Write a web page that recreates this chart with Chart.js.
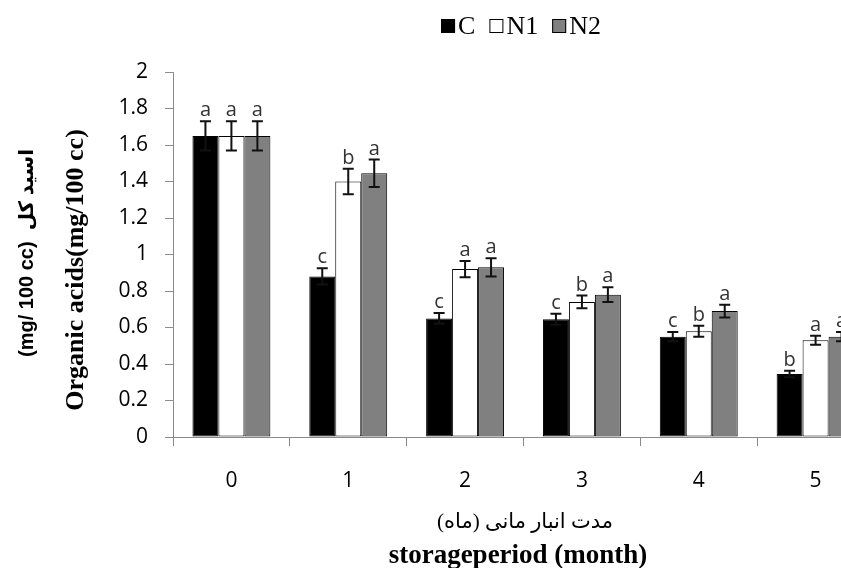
<!DOCTYPE html>
<html lang="fa">
<head>
  <meta charset="UTF-8">
  <title>Organic acids</title>
  <script src="https://cdn.jsdelivr.net/npm/chart.js"></script>
  <style>
    html, body { margin: 0; padding: 0; background: #fff; overflow: hidden; }
    #wrap { width: 900px; height: 568px; }
  </style>
</head>
<body>
  <div id="wrap"><canvas id="acidChart" width="900" height="568"></canvas></div>

  <script>
const months = ["0", "1", "2", "3", "4", "5"];
const seriesNames = ["C", "N1", "N2"];
const valuesC  = [1.65, 0.88, 0.65, 0.645, 0.55, 0.345];
const valuesN1 = [1.65, 1.40, 0.92, 0.74, 0.58, 0.53];
const valuesN2 = [1.65, 1.445, 0.93, 0.78, 0.69, 0.55];
const errC  = [0.08, 0.045, 0.03, 0.03, 0.025, 0.018];
const errN1 = [0.08, 0.07, 0.045, 0.035, 0.03, 0.025];
const errN2 = [0.08, 0.075, 0.05, 0.04, 0.035, 0.025];
const lettersC  = ["a", "c", "c", "c", "c", "b"];
const lettersN1 = ["a", "b", "a", "b", "b", "a"];
const lettersN2 = ["a", "a", "a", "a", "a", "a"];
const yTicks = [0, 0.2, 0.4, 0.6, 0.8, 1, 1.2, 1.4, 1.6, 1.8, 2];

const errors = [errC, errN1, errN2];
const letters = [lettersC, lettersN1, lettersN2];
const axisGray = "#8a8a8a";
const tickFont = "'Open Sans', 'DejaVu Sans', sans-serif";

// error bars + significance letters
const errorBarPlugin = {
  id: "errorBars",
  afterDatasetsDraw(chart) {
    const ctx = chart.ctx;
    const y = chart.scales.y;
    ctx.save();
    chart.data.datasets.forEach((ds, i) => {
      chart.getDatasetMeta(i).data.forEach((bar, j) => {
        const v = ds.data[j], e = errors[i][j];
        const top = y.getPixelForValue(v + e);
        const bot = y.getPixelForValue(v - e);
        ctx.strokeStyle = "#111";
        ctx.lineWidth = 2;
        ctx.beginPath();
        ctx.moveTo(bar.x, top); ctx.lineTo(bar.x, bot);
        ctx.moveTo(bar.x - 5.5, top); ctx.lineTo(bar.x + 5.5, top);
        ctx.moveTo(bar.x - 5.5, bot); ctx.lineTo(bar.x + 5.5, bot);
        ctx.stroke();
        ctx.fillStyle = "#333";
        ctx.font = "20px " + tickFont;
        ctx.textAlign = "center";
        ctx.textBaseline = "alphabetic";
        ctx.fillText(letters[i][j], bar.x, top - 5);
      });
    });
    ctx.restore();
  }
};

// legend and axis titles
const titlesPlugin = {
  id: "titles",
  afterDraw(chart) {
    const ctx = chart.ctx;
    ctx.save();

    // legend
    ctx.font = "26px 'Liberation Serif', serif";
    ctx.textBaseline = "middle";
    ctx.textAlign = "left";
    const box = 14, gap = 3, itemGap = 14;
    const widths = seriesNames.map(n => box + gap + ctx.measureText(n).width);
    const total = widths.reduce((a, b) => a + b, 0) + itemGap * (widths.length - 1);
    let x = 521 - total / 2;
    const ly = 26;
    chart.data.datasets.forEach((ds, i) => {
      ctx.fillStyle = ds.backgroundColor;
      ctx.fillRect(x, ly - box / 2, box, box);
      ctx.strokeStyle = "#000";
      ctx.lineWidth = 1;
      ctx.strokeRect(x + 0.5, ly - box / 2 + 0.5, box - 1, box - 1);
      ctx.fillStyle = "#000";
      ctx.fillText(seriesNames[i], x + box + gap, ly + 1);
      x += widths[i] + itemGap;
    });

    // x titles
    const cx = 518;
    ctx.textAlign = "center";
    ctx.fillStyle = "#000";
    ctx.textBaseline = "middle";
    ctx.font = "21px 'Liberation Serif', 'DejaVu Sans', serif";
    ctx.fillText("مدت انبار مانی (ماه)", 525, 522);
    ctx.textBaseline = "alphabetic";
    ctx.font = "bold 27px 'Liberation Serif', serif";
    ctx.fillText("storageperiod (month)", cx, 563);

    // y titles
    ctx.save();
    ctx.translate(76, 270);
    ctx.rotate(-Math.PI / 2);
    ctx.textBaseline = "middle";
    ctx.font = "bold 26px 'Liberation Serif', serif";
    ctx.fillText("Organic acids(mg/100 cc)", 0, 0);
    ctx.restore();

    ctx.save();
    ctx.translate(27, 253);
    ctx.rotate(-Math.PI / 2);
    ctx.textBaseline = "middle";
    ctx.font = "bold 20px 'Liberation Sans', 'DejaVu Sans', sans-serif";
    ctx.fillText("(mg/ 100 cc)  اسید کل", 0, 0);
    ctx.restore();

    ctx.restore();
  }
};

const ctx = document.getElementById("acidChart").getContext("2d");
new Chart(ctx, {
  type: "bar",
  data: {
    labels: months,
    datasets: [
      { label: seriesNames[0], data: valuesC,  backgroundColor: "#000000" },
      { label: seriesNames[1], data: valuesN1, backgroundColor: "#ffffff" },
      { label: seriesNames[2], data: valuesN2, backgroundColor: "#808080" }
    ].map(d => Object.assign(d, {
      borderColor: "#000", borderWidth: 1, borderSkipped: false,
      categoryPercentage: 0.667, barPercentage: 1.0
    }))
  },
  options: {
    responsive: false,
    animation: false,
    layout: { padding: { top: 72, right: 26, left: 0, bottom: 0 } },
    plugins: { legend: { display: false }, tooltip: { enabled: false } },
    scales: {
      x: {
        offset: true,
        grid: { display: true, offset: true, drawOnChartArea: false, color: axisGray, tickLength: 9 },
        border: { color: axisGray, width: 1 },
        ticks: { color: "#000", font: { family: tickFont, size: 21 }, padding: 22 },
        afterFit(s) { s.height = 131; }
      },
      y: {
        min: 0, max: 2,
        afterBuildTicks(s) { s.ticks = yTicks.map(v => ({ value: v })); },
        grid: { display: true, drawOnChartArea: false, color: axisGray, tickLength: 8 },
        border: { color: axisGray, width: 1 },
        ticks: {
          color: "#000", font: { family: tickFont, size: 21 }, padding: 17,
          callback: v => String(Math.round(v * 10) / 10)
        },
        afterFit(s) { s.width = 173; }
      }
    }
  },
  plugins: [errorBarPlugin, titlesPlugin]
});
  </script>
</body>
</html>
